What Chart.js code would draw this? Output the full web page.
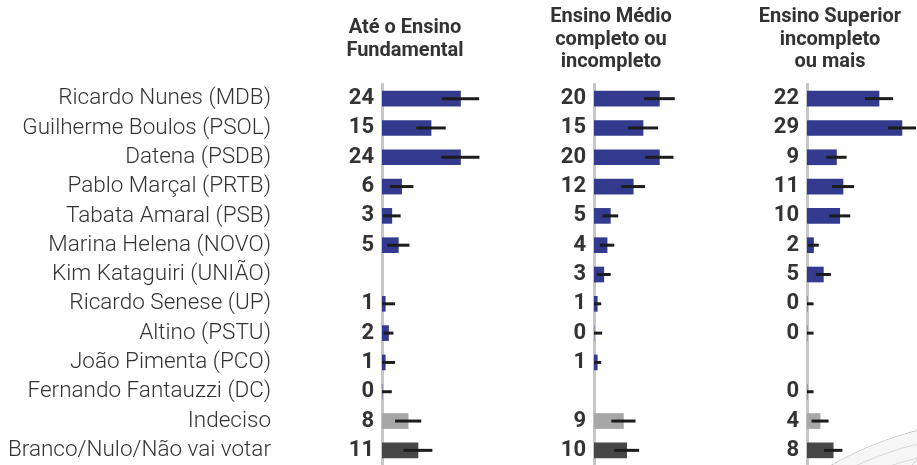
<!DOCTYPE html>
<html>
<head>
<meta charset="utf-8">
<script src="https://cdn.jsdelivr.net/npm/chart.js@4.4.1/dist/chart.umd.min.js"></script>
<style>
  html, body { margin: 0; padding: 0; background: #fff; }
  #wrap { position: relative; width: 917px; height: 465px; overflow: hidden; }
  canvas { position: absolute; top: 0; }
</style>
</head>
<body>
<div id="wrap">
  <canvas id="c1" width="486" height="465" style="left:0px"></canvas>
  <canvas id="c2" width="212" height="465" style="left:486px"></canvas>
  <canvas id="c3" width="219" height="465" style="left:698px"></canvas>
</div>
<script>
// Intenção de voto por escolaridade

const candidates = [
    'Ricardo Nunes (MDB)', 'Guilherme Boulos (PSOL)', 'Datena (PSDB)',
    'Pablo Marçal (PRTB)', 'Tabata Amaral (PSB)', 'Marina Helena (NOVO)',
    'Kim Kataguiri (UNIÃO)', 'Ricardo Senese (UP)', 'Altino (PSTU)',
    'João Pimenta (PCO)', 'Fernando Fantauzzi (DC)', 'Indeciso',
    'Branco/Nulo/Não vai votar'
];

const titleFundamental = ['Até o Ensino', 'Fundamental'];
const titleMedio = ['Ensino Médio', 'completo ou', 'incompleto'];
const titleSuperior = ['Ensino Superior', 'incompleto', 'ou mais'];

const valuesFundamental = [24, 15, 24, 6, 3, 5, null, 1, 2, 1, 0, 8, 11];
const valuesMedio       = [20, 15, 20, 12, 5, 4, 3, 1, 0, 1, null, 9, 10];
const valuesSuperior    = [22, 29, 9, 11, 10, 2, 5, 0, 0, null, 0, 4, 8];

// margem de erro (pontos percentuais)
const errorFundamental = [5.7, 4.5, 5.8, 3.6, 2.7, 3.4, null, 3, 1.5, 3, 3, 4.0, 4.4];
const errorMedio       = [4.7, 4.6, 4.3, 3.6, 2.4, 2.2, 2.1, 1.2, 2.5, 1.2, null, 3.7, 3.8];
const errorSuperior    = [4.3, 4.3, 3.1, 3.4, 3.2, 1.6, 2.3, 2.0, 2.0, null, 2.0, 2.6, 2.8];

const barColors = candidates.map(c => {
    if (c === 'Indeciso') return '#a7a7a7';
    if (c.startsWith('Branco')) return '#474747';
    return '#333b8e';
});

const textColor = '#333333';

// error bars drawn over the bars
const errorBarPlugin = {
    id: 'errorBars',
    afterDatasetsDraw(chart, args, opts) {
        const ctx = chart.ctx;
        const xs = chart.scales.x;
        const meta = chart.getDatasetMeta(0);
        const data = chart.data.datasets[0].data;
        ctx.save();
        ctx.strokeStyle = '#1c1c1c';
        ctx.lineWidth = 3;
        meta.data.forEach((bar, i) => {
            const v = data[i];
            const e = opts.errors[i];
            if (v === null || e === null) return;
            const x1 = xs.getPixelForValue(Math.max(0, v - e));
            const x2 = xs.getPixelForValue(v + e);
            ctx.beginPath();
            ctx.moveTo(x1, bar.y);
            ctx.lineTo(x2, bar.y);
            ctx.stroke();
        });
        ctx.restore();
    }
};

// centered multi-line panel title
const panelTitlePlugin = {
    id: 'panelTitle',
    afterDraw(chart, args, opts) {
        const ctx = chart.ctx;
        const cx = chart.chartArea.left + opts.offset;
        const lh = 22.5;
        const firstBaseline = 44.5 - (opts.lines.length - 1) * lh / 2;
        ctx.save();
        ctx.font = 'bold 20px Roboto';
        ctx.fillStyle = textColor;
        ctx.textAlign = 'center';
        ctx.textBaseline = 'alphabetic';
        opts.lines.forEach((line, i) => {
            ctx.fillText(line, cx, firstBaseline + i * lh);
        });
        ctx.restore();
    }
};

// faint globe decoration, bottom right
const globePlugin = {
    id: 'globe',
    beforeDraw(chart, args, opts) {
        if (!opts.show) return;
        const ctx = chart.ctx;
        const cx = 1000 - 698, cy = 760, r = 340;
        ctx.save();
        ctx.beginPath();
        ctx.arc(cx, cy, r, 0, Math.PI * 2);
        ctx.fillStyle = '#f6f6f6';
        ctx.fill();
        ctx.clip();
        ctx.strokeStyle = '#cfcfcf';
        ctx.lineWidth = 0.8;
        for (let k = 0; k < 10; k++) {
            ctx.beginPath();
            ctx.ellipse(cx, cy + k * 10, r, r - k * 4, 0, Math.PI, Math.PI * 2);
            ctx.stroke();
        }
        for (let k = -8; k <= 8; k++) {
            ctx.beginPath();
            ctx.ellipse(cx, cy, Math.abs(k) * 22 + 1, r, 0, 0, Math.PI * 2);
            ctx.stroke();
        }
        ctx.beginPath();
        ctx.arc(cx, cy, r, 0, Math.PI * 2);
        ctx.strokeStyle = '#b5b5b5';
        ctx.lineWidth = 1;
        ctx.stroke();
        ctx.restore();
    }
};

function fixAxis(width) {
    return s => {
        s.width = width;
        s.paddingTop = 0;
        s.paddingBottom = 0;
    };
}

function makePanel(canvasId, values, errors, title, opts) {
    const scales = {
        x: {
            display: false,
            min: 0,
            max: opts.xMax,
            grid: { display: false }
        },
        y: {
            position: 'left',
            weight: 0,
            grid: { display: false, drawTicks: false },
            border: { display: true, color: '#c6c6c6', width: 3 },
            ticks: {
                autoSkip: false,
                padding: 8,
                color: textColor,
                font: { family: 'Roboto', size: 22, weight: 'bold' },
                callback: (val, i) => values[i] === null ? '' : String(values[i])
            },
            afterFit: fixAxis(opts.numWidth)
        }
    };
    if (opts.showNames) {
        scales.names = {
            type: 'category',
            position: 'left',
            weight: 1,
            grid: { display: false, drawTicks: false },
            border: { display: false },
            ticks: {
                autoSkip: false,
                padding: 11,
                color: textColor,
                font: { family: 'Roboto', size: 22.5, weight: '300' }
            },
            afterFit: fixAxis(opts.namesWidth)
        };
    }

    return new Chart(document.getElementById(canvasId), {
        type: 'bar',
        data: {
            labels: candidates,
            datasets: [{
                data: values,
                backgroundColor: barColors,
                borderWidth: 0,
                barThickness: 15,
                yAxisID: 'y'
            }]
        },
        options: {
            indexAxis: 'y',
            responsive: false,
            animation: false,
            devicePixelRatio: 1,
            layout: { padding: { top: 84, bottom: 0, left: 0, right: 0 } },
            plugins: {
                legend: { display: false },
                tooltip: { enabled: false },
                errorBars: { errors: errors },
                panelTitle: { lines: title, offset: opts.titleOffset },
                globe: { show: !!opts.globe }
            },
            scales: scales
        },
        plugins: [globePlugin, errorBarPlugin, panelTitlePlugin]
    });
}

makePanel('c1', valuesFundamental, errorFundamental, titleFundamental,
    { xMax: 31.8, numWidth: 100, namesWidth: 282, showNames: true, titleOffset: 23 });
makePanel('c2', valuesMedio, errorMedio, titleMedio,
    { xMax: 31.8, numWidth: 108, titleOffset: 17 });
makePanel('c3', valuesSuperior, errorSuperior, titleSuperior,
    { xMax: 33.6, numWidth: 109, titleOffset: 23, globe: true });
</script>
</body>
</html>
